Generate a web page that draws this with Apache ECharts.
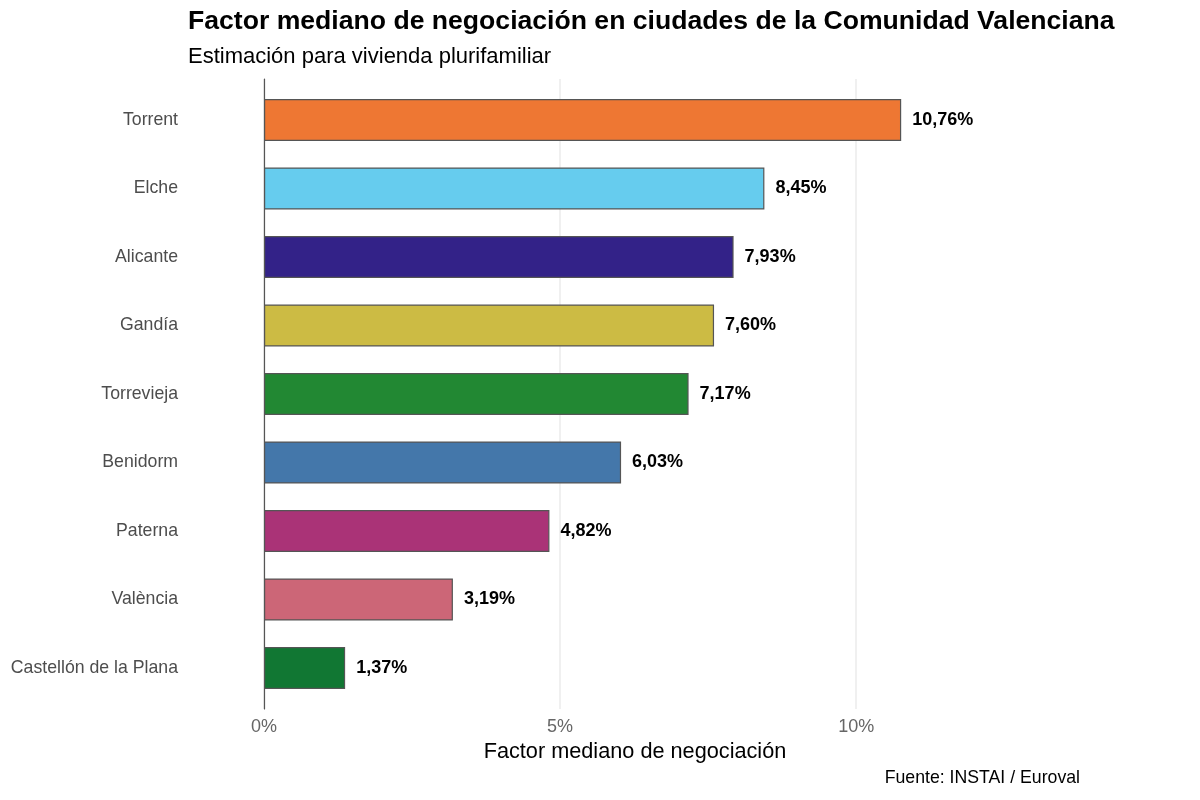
<!DOCTYPE html>
<html>
<head>
<meta charset="utf-8">
<title>Factor mediano de negociación</title>
<script src="https://cdn.jsdelivr.net/npm/echarts@6/dist/echarts.min.js"></script>
<style>
	html, body { margin: 0; padding: 0; background: #fff; }
	#chart { width: 1200px; height: 800px; }
</style>
</head>
<body>
<div id="chart"></div>
<script>
// datos
var cities = ['Torrent', 'Elche', 'Alicante', 'Gandía', 'Torrevieja', 'Benidorm', 'Paterna', 'València', 'Castellón de la Plana'];
var factorValues = [10.76, 8.45, 7.93, 7.60, 7.17, 6.03, 4.82, 3.19, 1.37];
var cityColors = ['#EE7733', '#66CCEE', '#332288', '#CCBB44', '#228833', '#4477AA', '#AA3377', '#CC6677', '#117733'];
var xTicks = [0, 5, 10];

var fontFamily = '"Liberation Sans", Arial, Helvetica, sans-serif';
var xMax = 12.53;

var myChart = echarts.init(document.getElementById('chart'));

var barData = [];
for (var i = 0; i < factorValues.length; i++) {
	barData.push({
		value: factorValues[i],
		itemStyle: { color: cityColors[i] }
	});
}

var option = {
	backgroundColor: '#ffffff',
	animation: false,
	textStyle: { fontFamily: fontFamily },
	title: [{
		text: 'Factor mediano de negociación en ciudades de la Comunidad Valenciana',
		left: 188,
		top: 8,
		padding: 0,
		textStyle: { fontSize: 26.6, fontWeight: 'bold', color: '#000', fontFamily: fontFamily }
	}, {
		text: 'Estimación para vivienda plurifamiliar',
		left: 188,
		top: 46,
		padding: 0,
		textStyle: { fontSize: 22, fontWeight: 'normal', color: '#000', fontFamily: fontFamily }
	}, {
		text: 'Fuente: INSTAI / Euroval',
		right: 120,
		top: 769,
		padding: 0,
		textStyle: { fontSize: 17.7, fontWeight: 'normal', color: '#000', fontFamily: fontFamily }
	}],
	grid: [
		// barras
		{ left: 264, right: 194, top: 85.75, bottom: 97.75, containLabel: false },
		// ejes y rejilla (rango expandido)
		{ left: 264, right: 194, top: 79, bottom: 91, containLabel: false }
	],
	xAxis: [{
		gridIndex: 0,
		type: 'value',
		min: 0,
		max: xMax,
		show: false
	}, {
		gridIndex: 1,
		type: 'value',
		min: 0,
		max: xMax,
		interval: 5,
		name: 'Factor mediano de negociación',
		nameLocation: 'middle',
		nameGap: 29,
		nameTextStyle: { fontSize: 21.7, color: '#000', fontFamily: fontFamily },
		axisLine: { show: false },
		axisTick: { show: false },
		axisLabel: {
			fontSize: 18,
			color: '#666',
			margin: 9,
			showMaxLabel: false,
			formatter: function(v) {
				return xTicks.indexOf(v) >= 0 ? v + '%' : '';
			}
		},
		splitLine: {
			show: true,
			showMaxLine: false,
			lineStyle: { color: '#EBEBEB', width: 1.5 }
		}
	}],
	yAxis: [{
		gridIndex: 0,
		type: 'category',
		inverse: true,
		data: cities,
		axisLine: { show: false },
		axisTick: { show: false },
		axisLabel: { fontSize: 17.7, color: '#4D4D4D', margin: 86 }
	}, {
		gridIndex: 1,
		type: 'value',
		min: 0,
		max: 1,
		axisLine: { show: true, onZero: false, lineStyle: { color: '#555', width: 1.2 } },
		axisTick: { show: false },
		axisLabel: { show: false },
		splitLine: { show: false }
	}],
	series: [{
		type: 'bar',
		xAxisIndex: 0,
		yAxisIndex: 0,
		barWidth: 42,
		data: barData,
		itemStyle: { borderColor: '#555', borderWidth: 1.2 },
		label: {
			show: true,
			position: 'right',
			distance: 11,
			fontSize: 18,
			fontWeight: 'bold',
			color: '#000',
			fontFamily: fontFamily,
			formatter: function(p) {
				return p.value.toFixed(2).replace('.', ',') + '%';
			}
		}
	}]
};
myChart.setOption(option);
window.onresize = myChart.resize;
</script>
</body>
</html>
